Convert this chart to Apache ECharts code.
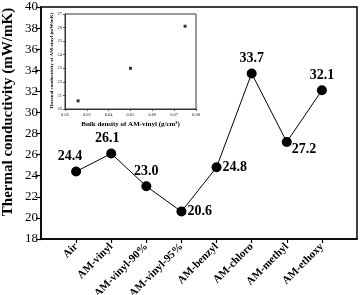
<!DOCTYPE html>
<html>
<head>
<meta charset="utf-8">
<script src="https://cdn.jsdelivr.net/npm/echarts@6/dist/echarts.min.js"></script>
<style>html,body{margin:0;padding:0;background:#fff}#c{width:360px;height:295px}</style>
</head>
<body>
<div id="c"></div>
<script>
var categories = ['Air', 'AM-vinyl', 'AM-vinyl-90%', 'AM-vinyl-95%', 'AM-benzyl', 'AM-chloro', 'AM-methyl', 'AM-ethoxy'];
var conductivity = [24.4, 26.1, 23.0, 20.6, 24.8, 33.7, 27.2, 32.1];
var labelTexts = ['24.4', '26.1', '23.0', '20.6', '24.8', '33.7', '27.2', '32.1'];
var insetDensity = [0.026, 0.050, 0.075];
var insetConductivity = [20.6, 23.0, 26.1];
var mainYName = 'Thermal conductivity (mW/mK)';
var insetYName = 'Thermal conductivity of AM-vinyl (mW/mK)';
var insetXName = 'Bulk density of AM-vinyl (g/cm³)';

var labelPlace = [
  {position: 'top', offset: [-6, 0]},
  {position: 'top', offset: [-4, 0]},
  {position: 'top', offset: [0, 0]},
  {position: 'right', offset: [-2, 0]},
  {position: 'right', offset: [-2, 0]},
  {position: 'top', offset: [0, 0]},
  {position: 'right', offset: [-3, 7]},
  {position: 'top', offset: [0, 0]}
];

var serif = '"Liberation Serif", "DejaVu Serif", serif';
var mainData = conductivity.map(function (v, i) {
  return {
    value: [i + 1, v],
    label: {position: labelPlace[i].position, offset: labelPlace[i].offset, formatter: labelTexts[i]}
  };
});
var insetData = insetDensity.map(function (d, i) { return [d, insetConductivity[i]]; });

var chart = echarts.init(document.getElementById('c'), null, {renderer: 'canvas'});
chart.setOption({
  animation: false,
  backgroundColor: '#fff',
  grid: [
    {left: 41, top: 7, right: 3, bottom: 56, containLabel: false, outerBoundsMode: 'none',
      show: true, borderColor: '#000', borderWidth: 1.5, backgroundColor: 'transparent'},
    {left: 65, top: 14, width: 131, height: 95, containLabel: false, outerBoundsMode: 'none',
      show: true, borderColor: '#333', borderWidth: 1, backgroundColor: '#fff'}
  ],
  graphic: [
    {type: 'text', x: 8, y: 112, rotation: Math.PI / 2, z: 100,
      style: {text: mainYName, font: 'bold 15px ' + serif, fill: '#000', align: 'center', verticalAlign: 'middle'}},
    {type: 'text', x: 52, y: 61, rotation: Math.PI / 2, z: 100,
      style: {text: insetYName, font: 'bold 5px ' + serif, fill: '#000', align: 'center', verticalAlign: 'middle'}}
  ],
  xAxis: [
    {
      gridIndex: 0, type: 'value', min: 0, max: 9, interval: 1,
      axisLine: {lineStyle: {color: '#000', width: 1.5}},
      axisTick: {show: true, length: 4, inside: false, lineStyle: {color: '#000', width: 1.2}},
      splitLine: {show: false},
      axisLabel: {
        rotate: 45, fontFamily: serif, fontWeight: 'bold', fontSize: 11, color: '#000', margin: 6,
        showMinLabel: false, showMaxLabel: false, hideOverlap: false,
        formatter: function (v) { var i = Math.round(v) - 1; return categories[i] || ''; }
      }
    },
    {
      gridIndex: 1, type: 'value', min: 0.02, max: 0.08, interval: 0.01,
      axisLine: {lineStyle: {color: '#333', width: 1}},
      axisTick: {show: true, length: 2, lineStyle: {color: '#333', width: 0.8}},
      splitLine: {show: false},
      axisLabel: {fontFamily: serif, fontSize: 4.5, color: '#222', margin: 3,
        formatter: function (v) { return v.toFixed(2); }},
      name: insetXName, nameLocation: 'middle', nameGap: 12,
      nameTextStyle: {fontFamily: serif, fontWeight: 'bold', fontSize: 7, color: '#000'}
    }
  ],
  yAxis: [
    {
      gridIndex: 0, type: 'value', min: 18, max: 40, interval: 2,
      axisLine: {show: true, lineStyle: {color: '#000', width: 1.5}},
      axisTick: {show: true, length: 5, lineStyle: {color: '#000', width: 1.2}},
      splitLine: {show: false},
      axisLabel: {fontFamily: serif, fontSize: 13, color: '#000', margin: 3}
    },
    {
      gridIndex: 1, type: 'value', min: 20, max: 27, interval: 1,
      axisLine: {show: true, lineStyle: {color: '#333', width: 1}},
      axisTick: {show: true, length: 2, lineStyle: {color: '#333', width: 0.8}},
      splitLine: {show: false},
      axisLabel: {fontFamily: serif, fontSize: 4.5, color: '#222', margin: 3}
    }
  ],
  series: [
    {
      type: 'line', xAxisIndex: 0, yAxisIndex: 0, data: mainData,
      symbol: 'circle', symbolSize: 10,
      itemStyle: {color: '#000'},
      lineStyle: {color: '#000', width: 1},
      label: {show: true, fontFamily: serif, fontWeight: 'bold', fontSize: 14, color: '#000', distance: 3}
    },
    {
      type: 'scatter', xAxisIndex: 1, yAxisIndex: 1, data: insetData,
      symbol: 'rect', symbolSize: 3, itemStyle: {color: '#000'}
    }
  ]
});
</script>
</body>
</html>
